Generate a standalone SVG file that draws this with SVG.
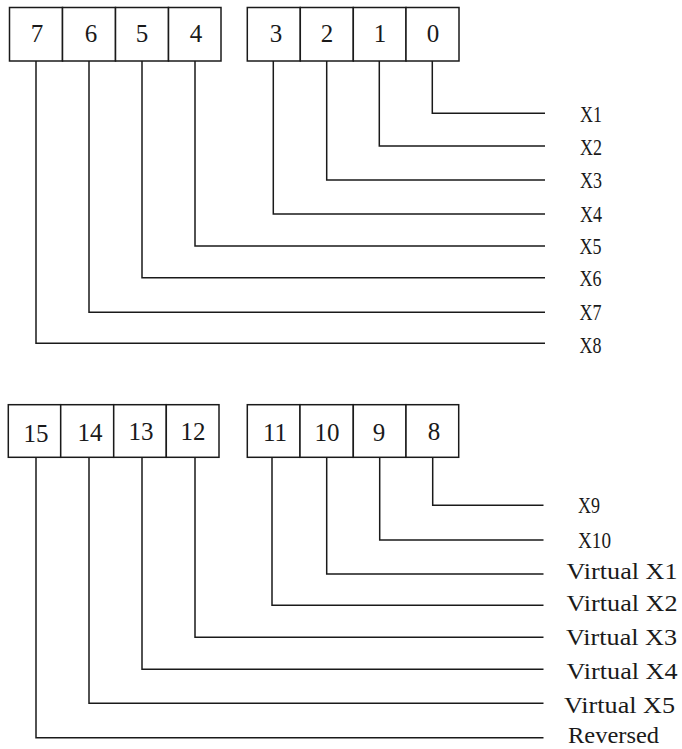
<svg xmlns="http://www.w3.org/2000/svg" width="682" height="749" viewBox="0 0 682 749">
<style>
  .cell { fill: #ffffff; stroke: #1a1a1a; stroke-width: 1.5; }
  .num { font-family: "Liberation Serif", "DejaVu Serif", serif; font-size: 25px; fill: #1a1a1a; text-anchor: middle; }
  .lbl { font-family: "Liberation Serif", "DejaVu Serif", serif; font-size: 23.5px; fill: #1a1a1a; }
  .wire { fill: none; stroke: #1a1a1a; stroke-width: 1.5; }
</style>
<rect width="682" height="749" fill="#ffffff"/>

<!-- Top byte: bits 7..0 -->
<g id="bit7"><rect class="cell" x="9.5" y="7.5" width="53" height="53.5"/><text class="num" x="37" y="42">7</text></g>
<g id="bit6"><rect class="cell" x="62.5" y="7.5" width="53" height="53.5"/><text class="num" x="91" y="42">6</text></g>
<g id="bit5"><rect class="cell" x="115.5" y="7.5" width="53" height="53.5"/><text class="num" x="142" y="42">5</text></g>
<g id="bit4"><rect class="cell" x="168.5" y="7.5" width="52.5" height="53.5"/><text class="num" x="196" y="42">4</text></g>
<g id="bit3"><rect class="cell" x="247.3" y="7.5" width="53" height="53.5"/><text class="num" x="276" y="42">3</text></g>
<g id="bit2"><rect class="cell" x="300.3" y="7.5" width="53" height="53.5"/><text class="num" x="327" y="42">2</text></g>
<g id="bit1"><rect class="cell" x="353.3" y="7.5" width="52.7" height="53.5"/><text class="num" x="380" y="42">1</text></g>
<g id="bit0"><rect class="cell" x="406" y="7.5" width="53" height="53.5"/><text class="num" x="433" y="42">0</text></g>

<!-- Bottom byte: bits 15..8 -->
<g id="bit15"><rect class="cell" x="8.3" y="404.7" width="52.4" height="52.6"/><text class="num" x="36" y="441.5">15</text></g>
<g id="bit14"><rect class="cell" x="60.7" y="404.7" width="53" height="52.6"/><text class="num" x="90" y="441">14</text></g>
<g id="bit13"><rect class="cell" x="113.7" y="404.7" width="52.6" height="52.6"/><text class="num" x="141" y="440">13</text></g>
<g id="bit12"><rect class="cell" x="166.3" y="404.7" width="52.7" height="52.6"/><text class="num" x="193" y="440">12</text></g>
<g id="bit11"><rect class="cell" x="247.3" y="404.7" width="52.7" height="52.6"/><text class="num" x="275" y="440.5">11</text></g>
<g id="bit10"><rect class="cell" x="300" y="404.7" width="53.3" height="52.6"/><text class="num" x="327" y="440.5">10</text></g>
<g id="bit9"><rect class="cell" x="353.3" y="404.7" width="52.7" height="52.6"/><text class="num" x="379" y="440.5">9</text></g>
<g id="bit8"><rect class="cell" x="406" y="404.7" width="52.7" height="52.6"/><text class="num" x="434" y="440">8</text></g>

<!-- Connectors -->
<g id="connectors">
  <path class="wire" d="M432.3 61 V113.3 H545"/>
  <path class="wire" d="M379.3 61 V146 H545"/>
  <path class="wire" d="M326.7 61 V180 H545"/>
  <path class="wire" d="M273.3 61 V214 H545"/>
  <path class="wire" d="M195 61 V246 H545"/>
  <path class="wire" d="M142 61 V277.7 H545"/>
  <path class="wire" d="M89 61 V312.3 H545"/>
  <path class="wire" d="M36 61 V343.3 H545"/>

  <path class="wire" d="M432.7 457.3 V505.3 H543.5"/>
  <path class="wire" d="M379.7 457.3 V540 H543.5"/>
  <path class="wire" d="M326.7 457.3 V574 H543.5"/>
  <path class="wire" d="M272 457.3 V605.3 H543.5"/>
  <path class="wire" d="M195 457.3 V637.3 H543.5"/>
  <path class="wire" d="M142 457.3 V669.3 H543.5"/>
  <path class="wire" d="M89 457.3 V703.3 H543.5"/>
  <path class="wire" d="M36 457.3 V737.7 H543.5"/>
</g>

<!-- Labels -->
<g id="label-X1"><text class="lbl" x="580" y="122" textLength="22" lengthAdjust="spacingAndGlyphs">X1</text></g>
<g id="label-X2"><text class="lbl" x="580" y="154.5" textLength="22" lengthAdjust="spacingAndGlyphs">X2</text></g>
<g id="label-X3"><text class="lbl" x="580" y="188" textLength="22" lengthAdjust="spacingAndGlyphs">X3</text></g>
<g id="label-X4"><text class="lbl" x="580" y="222" textLength="22" lengthAdjust="spacingAndGlyphs">X4</text></g>
<g id="label-X5"><text class="lbl" x="579.5" y="253.5" textLength="22" lengthAdjust="spacingAndGlyphs">X5</text></g>
<g id="label-X6"><text class="lbl" x="579.5" y="286" textLength="22" lengthAdjust="spacingAndGlyphs">X6</text></g>
<g id="label-X7"><text class="lbl" x="579.5" y="319.5" textLength="22" lengthAdjust="spacingAndGlyphs">X7</text></g>
<g id="label-X8"><text class="lbl" x="579.5" y="352.5" textLength="22" lengthAdjust="spacingAndGlyphs">X8</text></g>

<g id="label-X9"><text class="lbl" x="578" y="513" textLength="22" lengthAdjust="spacingAndGlyphs">X9</text></g>
<g id="label-X10"><text class="lbl" x="578" y="548" textLength="33" lengthAdjust="spacingAndGlyphs">X10</text></g>
<g id="label-VX1"><text class="lbl" x="566.5" y="579" textLength="111" lengthAdjust="spacingAndGlyphs">Virtual X1</text></g>
<g id="label-VX2"><text class="lbl" x="566.5" y="611" textLength="111" lengthAdjust="spacingAndGlyphs">Virtual X2</text></g>
<g id="label-VX3"><text class="lbl" x="566" y="645" textLength="111" lengthAdjust="spacingAndGlyphs">Virtual X3</text></g>
<g id="label-VX4"><text class="lbl" x="566.5" y="679" textLength="111" lengthAdjust="spacingAndGlyphs">Virtual X4</text></g>
<g id="label-VX5"><text class="lbl" x="564" y="713" textLength="111" lengthAdjust="spacingAndGlyphs">Virtual X5</text></g>
<g id="label-Reversed"><text class="lbl" x="568" y="743" textLength="91" lengthAdjust="spacingAndGlyphs">Reversed</text></g>
</svg>
